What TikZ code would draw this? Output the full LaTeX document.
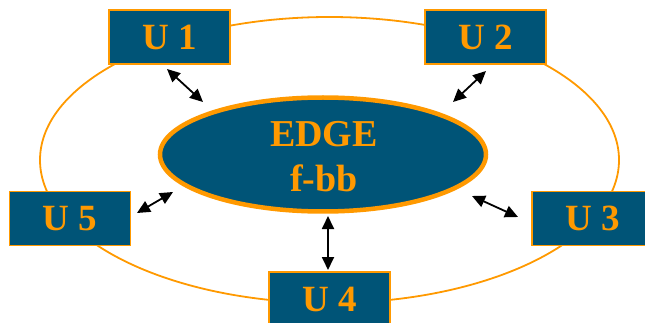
\documentclass[tikz,border=0pt]{standalone}
\usepackage{fontspec}
\setmainfont{Liberation Serif}
\usetikzlibrary{arrows.meta,shapes.geometric}
\definecolor{tealbox}{RGB}{0,84,119}
\definecolor{orng}{RGB}{255,153,0}
\begin{document}
\begin{tikzpicture}[x=1pt,y=-1pt,
  ubox/.style={draw=orng,line width=1.6pt,fill=tealbox,minimum width=121pt,minimum height=54pt,inner sep=0pt,
    font=\fontsize{37}{37}\selectfont\bfseries,text=orng},
  link/.style={line width=1.8pt,{Triangle[length=13pt,width=12pt]}-{Triangle[length=13pt,width=12pt]}}]
\useasboundingbox (0,0) rectangle (645,323);
\draw[orng,line width=1.8pt] (329.5,160) ellipse [x radius=289.5,y radius=143];
\node[ellipse,draw=orng,line width=4.5pt,fill=tealbox,minimum width=326pt,minimum height=114pt,inner sep=0pt] (edge) at (323,154.5) {};
\node[text=orng,font=\fontsize{38}{45}\selectfont\bfseries,align=center] (edgetxt) at (324,157) {EDGE\\f-bb};
\node[ubox] (u1) at (169.5,37) {U 1};
\node[ubox] (u2) at (485.5,37) {U 2};
\node[ubox] (u5) at (70,218.5) {U 5};
\node[ubox] (u3) at (592.5,218.5) {U 3};
\node[ubox] (u4) at (329.5,299) {U 4};
\coordinate (a1) at (167,69); \coordinate (b1) at (203,102);
\coordinate (a2) at (486,71); \coordinate (b2) at (453,102);
\coordinate (a5) at (137,213); \coordinate (b5) at (173,192);
\coordinate (a3) at (518,217); \coordinate (b3) at (472,196);
\coordinate (a4) at (328,270); \coordinate (b4) at (328,216);
\draw[link] (a1) -- (b1);
\draw[link] (a2) -- (b2);
\draw[link] (a5) -- (b5);
\draw[link] (a3) -- (b3);
\draw[link] (a4) -- (b4);
\end{tikzpicture}
\end{document}
